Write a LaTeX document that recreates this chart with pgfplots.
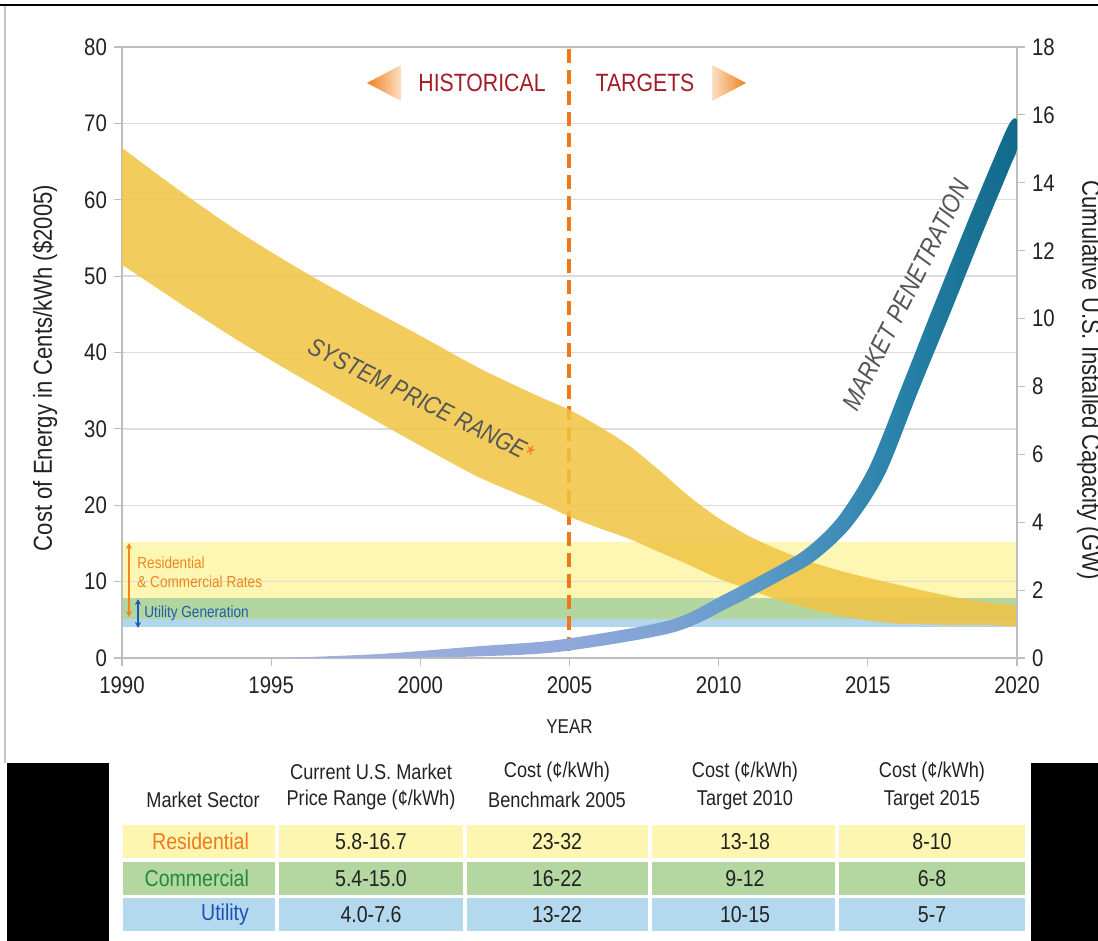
\documentclass[border=0pt]{standalone}
\usepackage{pgfplots}
\pgfplotsset{compat=1.18}
\usetikzlibrary{arrows.meta}
\usepackage{fontspec}
\setmainfont{Liberation Sans}[FakeStretch=0.85]

\definecolor{gridc}{HTML}{DCDCDC}
\definecolor{axc}{HTML}{BDBDBD}
\definecolor{tickc}{HTML}{222222}
\definecolor{bandY}{HTML}{FDF7B3}
\definecolor{bandG}{HTML}{B3D6A1}
\definecolor{bandB}{HTML}{B2D7EC}
\definecolor{gold}{HTML}{F0C442}
\definecolor{dashOr}{HTML}{F07818}
\definecolor{histRed}{HTML}{A11D27}
\definecolor{triOr}{HTML}{F07F1F}
\definecolor{triLt}{HTML}{FBE0C4}
\definecolor{labOr}{HTML}{F0861C}
\definecolor{labBl}{HTML}{1F5BB0}
\definecolor{txtGray}{HTML}{555555}
\definecolor{resOr}{HTML}{F07A1A}
\definecolor{comGr}{HTML}{1E8C3A}
\definecolor{utiBl}{HTML}{1F4FB8}
\definecolor{rowY}{HTML}{FDF6B0}
\definecolor{rowG}{HTML}{B4D6A0}
\definecolor{rowB}{HTML}{B4D9EE}
\definecolor{mp0}{HTML}{A6B1DE}
\definecolor{mp1}{HTML}{8FA8DA}
\definecolor{mp2}{HTML}{7FA3D3}
\definecolor{mp3}{HTML}{6A9ECE}
\definecolor{mp4}{HTML}{5597C4}
\definecolor{mp5}{HTML}{3F8DB8}
\definecolor{mp6}{HTML}{2A82AA}
\definecolor{mp7}{HTML}{1C7699}
\definecolor{mp8}{HTML}{11698A}
\pgfdeclarehorizontalshading{mpshade}{100bp}{color(0bp)=(mp0); color(25bp)=(mp0); color(44.6bp)=(mp1); color(50.7bp)=(mp2); color(54.5bp)=(mp3); color(58.6bp)=(mp4); color(62.6bp)=(mp5); color(66.7bp)=(mp6); color(70.7bp)=(mp7); color(75bp)=(mp8); color(100bp)=(mp8)}

\pgfplotsset{frame/.style={at={(61pt,-329pt)}, anchor=south west,
  scale only axis, width=447.5pt, height=305.5pt, xmin=1990, xmax=2020}}

\begin{document}
\begin{tikzpicture}
\useasboundingbox (0,0) rectangle (549pt,-470.5pt);

% axis A: market rate bands (under the grid)
\begin{axis}[frame, ymin=0, ymax=80, hide axis]
\addplot[draw=none, fill=bandY] coordinates {(1990,7.8)(2020,7.8)(2020,15.2)(1990,15.2)} -- cycle;
\addplot[draw=none, fill=bandG] coordinates {(1990,5.1)(2020,5.1)(2020,7.8)(1990,7.8)} -- cycle;
\addplot[draw=none, fill=bandB] coordinates {(1990,4.0)(2020,4.0)(2020,5.1)(1990,5.1)} -- cycle;
\end{axis}

% axis B: cost axis, grid, price range
\begin{axis}[frame, ymin=0, ymax=80,
  xtick={1990,1995,...,2020}, ytick={0,10,...,80},
  xtick pos=bottom, ytick pos=left, tick align=outside,
  major tick length=4pt,
  every tick/.style={draw=axc, line width=0.6pt},
  axis line style={draw=axc, line width=0.6pt},
  ymajorgrids, grid style={draw=gridc, line width=0.7pt},
  /pgf/number format/assume math mode=true,
  tick label style={font=\fontsize{12}{14}\selectfont, text=tickc},
  xticklabel style={/pgf/number format/1000 sep={}},
  xticklabel shift=2pt,
  xlabel={YEAR},
  xlabel style={at={(axis description cs:0.5,-0.113)}, anchor=center, font=\fontsize{10}{12}\selectfont, text=tickc},
  ylabel={Cost of Energy in Cents/kWh (\$2005)},
  ylabel style={at={(axis description cs:-0.086,0.4746)}, anchor=center, font=\fontsize{13}{15}\selectfont, text=tickc},
]
\addplot[draw=dashOr, line width=2pt, dash pattern=on 7pt off 3.5pt] coordinates {(2005,79.7)(2005,0.3)};
% system price range: upper edge, then lower edge back
\addplot[fill=gold, fill opacity=0.85, draw=none, smooth, tension=0.5] coordinates {
 (1990,66.8)(1992,61.0)(1994,55.6)(1996,50.8)(1998,46.4)(2000,42.2)(2002,37.9)(2004,34.2)(2005,32.5)(2006,30.3)(2007,27.8)(2008,24.6)(2009,21.2)(2010,18.3)(2011,16.0)(2012,14.2)(2013,12.7)(2014,11.5)(2015,10.5)(2016,9.6)(2017,8.7)(2018,7.9)(2019,7.3)(2020,6.7)
 (2020,4.3)(2019,4.3)(2018,4.3)(2017,4.4)(2016,4.5)(2015,4.9)(2014,5.6)(2013,6.5)(2012,7.6)(2011,9.0)(2010,10.4)(2009,12.2)(2008,13.9)(2007,15.6)(2006,17.0)(2005,18.5)(2004,20.3)(2002,23.6)(2000,27.8)(1998,32.2)(1996,36.7)(1994,41.3)(1992,46.3)(1990,51.5)} -- cycle;
\end{axis}

% axis C: installed capacity
\begin{axis}[frame, ymin=0, ymax=18,
  axis x line=none, axis y line*=right,
  ytick={0,2,...,18}, tick align=outside, major tick length=4pt,
  every tick/.style={draw=axc, line width=0.6pt},
  axis line style={draw=axc, line width=0.6pt, -},
  /pgf/number format/assume math mode=true,
  tick label style={font=\fontsize{12}{14}\selectfont, text=tickc},
  ylabel={Cumulative U.S. Installed Capacity (GW)},
  ylabel style={at={(axis description cs:1.0805,0.455)}, anchor=center, rotate=180, font=\fontsize{13}{15}\selectfont, text=tickc},
]
% market penetration band: upper edge, then lower edge back
\addplot[draw=none, shade, shading=mpshade, smooth, tension=0.5] coordinates {
 (1995.3,0.0)(1998.65,0.12)(2001.99,0.35)(2004.67,0.54)(2008.34,1.11)(2010.2,1.88)(2011.84,2.64)(2012.91,3.21)(2013.99,4.13)(2015.05,5.63)(2016.14,8.0)(2017.22,10.4)(2018.32,12.8)(2019.22,14.7)(2019.75,15.75)(2020,15.85)
 (2020,15.0)(2019.78,14.5)(2018.88,12.6)(2017.78,10.2)(2016.66,7.8)(2015.55,5.37)(2014.41,3.84)(2013.21,2.86)(2012.06,2.28)(2010.4,1.51)(2008.46,0.75)(2004.73,0.19)(2002.01,0.05)(1998.65,0.0)(1995.3,0.0)} -- cycle;
\end{axis}

\begin{scope}[x=0.5pt,y=-0.5pt]
% screenshot frame
\fill[black] (0,4) rectangle (1098,6.5);
\draw[gray!45, line width=0.6pt] (5,6) -- (5,763);
\fill[black] (7,763) rectangle (109,941);
\fill[black] (1031,763) rectangle (1098,941);
% historical / targets header
\shade[left color=triOr, right color=triLt] (367,83) -- (401,65) -- (401,101) -- cycle;
\shade[left color=triLt, right color=triOr] (712,65) -- (746,83) -- (712,101) -- cycle;
\node[text=histRed, font=\fontsize{12.5}{15}\selectfont] at (482,83) {HISTORICAL};
\node[text=histRed, font=\fontsize{12.5}{15}\selectfont] at (645,83) {TARGETS};
% band annotations
\draw[labOr, line width=0.8pt, {Stealth[length=3pt,width=3pt]}-{Stealth[length=3pt,width=3pt]}] (129,543) -- (129,617);
\draw[labBl, line width=0.8pt, {Stealth[length=3pt,width=3pt]}-{Stealth[length=3pt,width=3pt]}] (138,599) -- (138,628);
\node[anchor=base west, inner sep=0, text=labOr, font=\fontsize{8}{9.6}\selectfont] at (137,568) {Residential};
\node[anchor=base west, inner sep=0, text=labOr, font=\fontsize{8}{9.6}\selectfont] at (137,587) {\& Commercial Rates};
\node[anchor=base west, inner sep=0, text=labBl, font=\fontsize{8}{9.6}\selectfont] at (144,617) {Utility Generation};
% curve labels
\node[rotate=-26.5, text=txtGray, font=\itshape\fontsize{12.5}{15}\selectfont] at (421,400) {SYSTEM PRICE RANGE\textcolor{dashOr}{*}};
\node[rotate=63.4, text=txtGray, font=\itshape\fontsize{13}{15}\selectfont] at (906,295) {MARKET PENETRATION};
% table
\foreach \a/\b in {123/275,279/463,467/648,652/835,839/1025} {
  \fill[rowY] (\a,825) rectangle (\b,858);
  \fill[rowG] (\a,862) rectangle (\b,895);
  \fill[rowB] (\a,898) rectangle (\b,931);
}
\begin{scope}[every node/.style={text=tickc, font=\fontsize{10.7}{13}\selectfont}]
\node at (203,800) {Market Sector};
\node at (371,772) {Current U.S. Market};
\node at (371,800) {Price Range (¢/kWh)};
\node at (557,772) {Cost (¢/kWh)};
\node at (557,800) {Benchmark 2005};
\node at (745,772) {Cost (¢/kWh)};
\node at (745,800) {Target 2010};
\node at (932,772) {Cost (¢/kWh)};
\node at (932,800) {Target 2015};
\end{scope}
\begin{scope}[every node/.style={font=\fontsize{11.5}{13}\selectfont}]
\node[anchor=east, text=resOr] at (256,841.5) {Residential};
\node[anchor=east, text=comGr] at (256,878.5) {Commercial};
\node[anchor=east, text=utiBl] at (256,914.5) {Utility};
\node[text=tickc] at (371,841.5) {5.8-16.7};
\node[text=tickc] at (557,841.5) {23-32};
\node[text=tickc] at (745,841.5) {13-18};
\node[text=tickc] at (932,841.5) {8-10};
\node[text=tickc] at (371,878.5) {5.4-15.0};
\node[text=tickc] at (557,878.5) {16-22};
\node[text=tickc] at (745,878.5) {9-12};
\node[text=tickc] at (932,878.5) {6-8};
\node[text=tickc] at (371,914.5) {4.0-7.6};
\node[text=tickc] at (557,914.5) {13-22};
\node[text=tickc] at (745,914.5) {10-15};
\node[text=tickc] at (932,914.5) {5-7};
\end{scope}
\end{scope}
\end{tikzpicture}
\end{document}
